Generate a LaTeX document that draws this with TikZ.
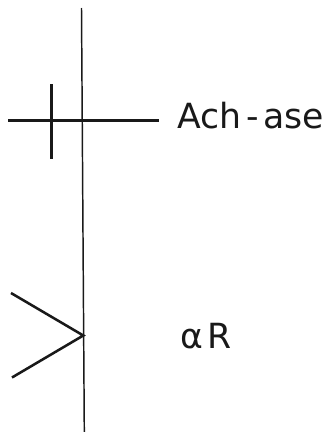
\documentclass[tikz,border=0pt]{standalone}
\usepackage{fontspec}
\setmainfont{DejaVu Sans}
\usetikzlibrary{positioning}
\definecolor{inkclr}{RGB}{25,25,25}
\tikzset{
  axisln/.style={draw=inkclr,line width=1.1pt},
  markln/.style={draw=inkclr,line width=1.9pt},
  lbl/.style={font=\fontsize{26}{30}\selectfont,text=inkclr,inner sep=0pt,anchor=base west},
}
\begin{document}
\begin{tikzpicture}[x=0.75pt,y=-0.75pt]
  \useasboundingbox (0,0) rectangle (334,432);

  % membrane axis
  \coordinate (top) at (81.5,8);
  \coordinate (bot) at (84.3,432);
  \draw[axisln] (top) -- (bot);

  % enzyme site
  \coordinate (hl) at (8,120.5);
  \coordinate (hr) at (159,120.5);
  \coordinate (tt) at (51.5,84);
  \coordinate (tb) at (51.5,159);
  \draw[markln] (hl) -- (hr);
  \draw[markln] (tt) -- (tb);
  \node[lbl] (ach) at (177,128) {Ach\kern4pt-\kern3pt ase};

  % receptor site
  \coordinate (cu) at (11,293);
  \coordinate (cv) at (83.3,335.5);
  \coordinate (cd) at (12,377.5);
  \draw[markln] (cu) -- (cv) -- (cd);
  \node[lbl] (ar) at (180,348) {α\kern3pt R};
\end{tikzpicture}
\end{document}
